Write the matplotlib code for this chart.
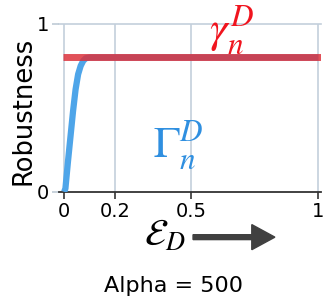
import matplotlib
matplotlib.use('Agg')
import matplotlib.pyplot as plt
from matplotlib.patches import FancyArrow

plt.rcParams['mathtext.fontset'] = 'stix'
plt.rcParams['font.family'] = 'DejaVu Sans'

# blue curve (Gamma)
eps = [0.0, 0.005, 0.015, 0.025, 0.035, 0.045, 0.055, 0.065, 0.075, 0.085, 0.1, 0.12, 0.5, 1.0]
gamma_big = [0.0, 0.02, 0.18, 0.33, 0.48, 0.61, 0.70, 0.75, 0.78, 0.795, 0.80, 0.80, 0.80, 0.80]
# red flat line (gamma)
red_x = [-0.005, 1.01]
red_y = [0.80, 0.80]

xticks = [0, 0.2, 0.5, 1]
xticklabels = ['0', '0.2', '0.5', '1']
yticks = [0, 1]
yticklabels = ['0', '1']

fig = plt.figure(figsize=(3.3, 3.06), dpi=100)
ax = fig.add_axes([0.179, 0.373, 0.793, 0.549])

ax.plot(eps, gamma_big, color='#4ea5e9', lw=4.5, solid_capstyle='butt', zorder=3)
ax.plot(red_x, red_y, color='#dc323c', alpha=0.85, lw=5, solid_capstyle='butt', zorder=4)

ax.set_xlim(-0.02, 1.01)
ax.set_ylim(0, 1)
ax.set_xticks(xticks)
ax.set_xticklabels(xticklabels, fontsize=14)
ax.set_yticks(yticks)
ax.set_yticklabels(yticklabels, fontsize=14)
ax.tick_params(axis='x', length=5, width=1.2, color='#333333', pad=2)
ax.tick_params(axis='y', length=5, width=1.2, color='#bfcbd6', pad=2)

for x in xticks:
    ax.axvline(x, color='#c3cfdb', lw=1.2, zorder=1)
ax.axhline(1, color='#c3cfdb', lw=1.2, zorder=1, clip_on=False)

for s in ['top', 'right', 'left']:
    ax.spines[s].set_visible(False)
ax.spines['bottom'].set_color('#333333')
ax.spines['bottom'].set_linewidth(1.3)

ax.set_ylabel('Robustness', fontsize=18.5)
ax.yaxis.set_label_coords(-0.088, 0.48)

ax.text(0.66, 0.965, r'$\gamma_n^D$', color='#f0141e', fontsize=32, ha='center', va='center')
ax.text(0.45, 0.28, r'$\Gamma_n^D$', color='#2f8fe0', fontsize=32, ha='center', va='center')

fig.text(0.50, 0.228, r'$\mathcal{E}_D$', fontsize=27, ha='center', va='center')
fig.patches.append(FancyArrow(0.585, 0.225, 0.248, 0, width=0.016, head_width=0.082,
                              head_length=0.07, length_includes_head=True,
                              color='#404040', transform=fig.transFigure, figure=fig))

fig.text(0.525, 0.065, 'Alpha = 500', fontsize=16, ha='center', va='center')

fig.savefig('out.png', dpi=100)
